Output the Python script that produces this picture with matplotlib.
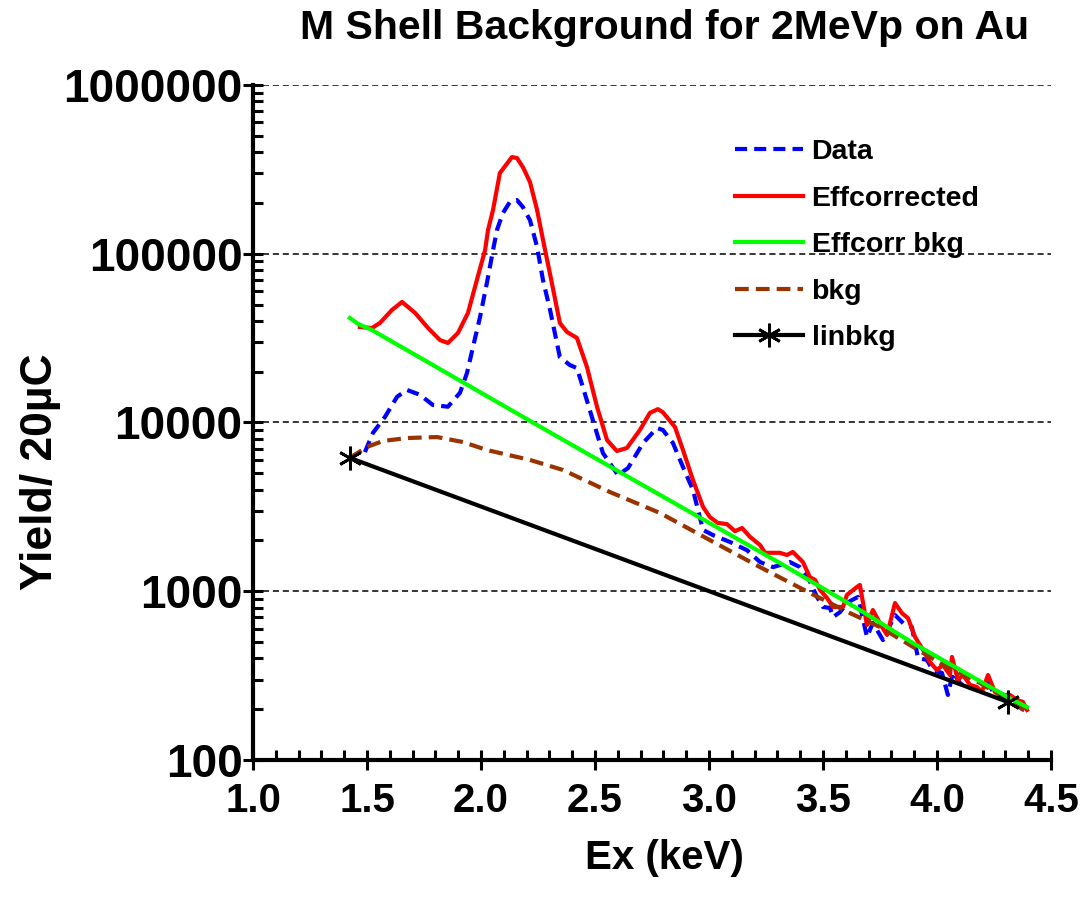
import numpy as np
import matplotlib
matplotlib.use("Agg")
import matplotlib.pyplot as plt
from matplotlib.ticker import FixedLocator, MultipleLocator, FuncFormatter, LogLocator, NullFormatter

plt.rcParams["font.family"] = ["Liberation Sans", "DejaVu Sans"]
plt.rcParams["font.weight"] = "bold"

# Ex (keV) / yield per 20 uC
data_x = [1.491, 1.526, 1.579, 1.632, 1.675, 1.732, 1.789, 1.855, 1.908, 1.939,
          1.965, 1.996, 2.026, 2.053, 2.070, 2.096, 2.127, 2.158, 2.184, 2.215,
          2.246, 2.272, 2.303, 2.346, 2.390, 2.421, 2.447, 2.491, 2.535, 2.601,
          2.645, 2.711, 2.772, 2.798, 2.842, 2.886, 2.930, 2.974, 3.018, 3.092,
          3.167, 3.224, 3.281, 3.355, 3.399, 3.434, 3.474, 3.500, 3.531, 3.544,
          3.575, 3.605, 3.627, 3.654, 3.693, 3.719, 3.763, 3.816, 3.860, 3.890,
          3.917, 3.956, 3.982, 4.022, 4.048, 4.070, 4.101, 4.132, 4.158, 4.189,
          4.224, 4.254, 4.289, 4.320, 4.351, 4.386]
data_y = [6680, 8670, 10800, 14200, 15600, 14600, 12700, 12400, 15000, 19700,
          28000, 42200, 67100, 105000, 138000, 174000, 203000, 208000, 189000, 158000,
          110000, 69800, 46500, 24400, 21900, 21000, 16200, 10300, 6590, 4880,
          5370, 7560, 9270, 9030, 7560, 5450, 3980, 2310, 2150, 1960,
          1750, 1490, 1390, 1490, 1390, 1210, 925, 807, 796, 703,
          753, 851, 887, 925, 536, 649, 514, 723, 631, 614,
          402, 392, 341, 328, 243, 332, 286, 267, 267, 260,
          286, 243, 236, 233, 221, 190]

eff_x = [1.469, 1.522, 1.557, 1.610, 1.654, 1.711, 1.768, 1.820, 1.855, 1.899,
         1.943, 1.982, 2.018, 2.031, 2.053, 2.083, 2.136, 2.158, 2.184, 2.215,
         2.246, 2.272, 2.311, 2.346, 2.377, 2.421, 2.465, 2.509, 2.553, 2.596,
         2.640, 2.697, 2.741, 2.776, 2.798, 2.851, 2.886, 2.930, 2.974, 3.004,
         3.039, 3.079, 3.114, 3.145, 3.180, 3.224, 3.246, 3.311, 3.342, 3.368,
         3.412, 3.443, 3.465, 3.487, 3.518, 3.544, 3.588, 3.605, 3.649, 3.662,
         3.693, 3.719, 3.759, 3.781, 3.816, 3.846, 3.873, 3.904, 3.939, 3.969,
         4.000, 4.026, 4.057, 4.066, 4.092, 4.114, 4.145, 4.175, 4.197, 4.224,
         4.254, 4.285, 4.320, 4.351, 4.377, 4.395]
eff_y = [36800, 36300, 38900, 46500, 51800, 44600, 36300, 30800, 29600, 33900,
         44600, 69800, 105000, 138000, 182000, 301000, 374000, 369000, 326000, 266000,
         182000, 121000, 67100, 38900, 34400, 31700, 21300, 12400, 7870, 6780,
         7060, 9020, 11400, 12000, 11500, 9400, 6870, 4560, 3160, 2750,
         2540, 2500, 2270, 2370, 2100, 1880, 1690, 1690, 1640, 1710,
         1490, 1210, 1170, 1020, 912, 807, 807, 951, 1060, 1090,
         631, 774, 614, 551, 851, 743, 693, 536, 449, 381,
         341, 366, 319, 408, 298, 319, 279, 271, 253, 319,
         253, 243, 243, 227, 221, 198]

effbkg_x = [1.425, 1.461, 1.522, 2.346, 3.311, 3.662, 3.895, 4.333, 4.395]
effbkg_y = [41600, 38400, 35300, 8090, 1470, 774, 493, 227, 206]

bkg_x = [1.425, 1.500, 1.570, 1.675, 1.807, 1.921, 2.026, 2.215, 2.360, 2.566,
         2.785, 3.004, 3.224, 3.443, 3.618, 3.750, 3.895, 4.044, 4.189, 4.333, 4.395]
bkg_y = [6170, 7160, 7770, 8090, 8200, 7660, 6870, 6000, 5230, 3870,
         2910, 2010, 1390, 977, 743, 614, 468, 356, 286, 218, 192]

linbkg_x = [1.425, 4.31]
linbkg_y = [6170, 221]

fig = plt.figure(figsize=(10.82, 9.05), dpi=100)
ax = fig.add_axes([0.2338, 0.1602, 0.9713 - 0.2338, 0.9061 - 0.1602])

ax.plot(data_x, data_y, color="#0000FF", lw=3, dashes=(2.9, 1.7), label="Data", zorder=3)
ax.plot(eff_x, eff_y, color="#FF0000", lw=3, label="Effcorrected", zorder=3)
ax.plot(effbkg_x, effbkg_y, color="#00FF00", lw=3, label="Effcorr bkg", zorder=4)
ax.plot(bkg_x, bkg_y, color="#993300", lw=3, dashes=(3.3, 1.7), label="bkg", zorder=3)
ax.plot(linbkg_x, linbkg_y, color="black", lw=3, marker=(6, 2, 0), ms=17, mew=2,
        label="linbkg", zorder=5)

ax.set_yscale("log")
ax.set_xlim(1.0, 4.5)
ax.set_ylim(100, 1000000)

ax.xaxis.set_major_locator(MultipleLocator(0.5))
ax.xaxis.set_minor_locator(MultipleLocator(0.1))
ax.xaxis.set_major_formatter(FuncFormatter(lambda v, p: f"{v:.1f}"))
ax.yaxis.set_major_locator(FixedLocator([100, 1000, 10000, 100000, 1000000]))
ax.yaxis.set_minor_locator(LogLocator(base=10, subs=np.arange(2, 10), numticks=20))
ax.yaxis.set_major_formatter(FuncFormatter(lambda v, p: f"{int(round(v))}"))
ax.yaxis.set_minor_formatter(NullFormatter())

for side in ["top", "right"]:
    ax.spines[side].set_visible(False)
for side in ["left", "bottom"]:
    ax.spines[side].set_linewidth(3)

ax.tick_params(axis="both", which="major", direction="inout", length=15, width=2.2)
ax.tick_params(axis="both", which="minor", direction="in", length=7, width=2.2)
ax.tick_params(axis="x", which="major", labelsize=29, pad=8)
ax.tick_params(axis="y", which="major", labelsize=33, pad=0)

ax.grid(True, axis="y", which="major", color="black", lw=1.1, linestyle=(0, (4, 2.5)))
ax.set_axisbelow(True)

ax.set_xlabel("Ex (keV)", fontsize=29, fontweight="bold")
ax.xaxis.set_label_coords(0.516, -0.117)
ax.set_ylabel("Yield/ 20µC", fontsize=32, fontweight="bold")
ax.yaxis.set_label_coords(-0.241, 0.427)
fig.suptitle("M Shell Background for 2MeVp on Au", fontsize=29.5, fontweight="bold",
             x=0.614, y=0.99)

ax.legend(loc="upper left", bbox_to_anchor=(0.679, 0.846), bbox_transform=fig.transFigure,
          frameon=False, fontsize=20.5, handlelength=2.4, handletextpad=0.3,
          labelspacing=0.72, borderaxespad=0, borderpad=0)

fig.savefig("out.png", dpi=100)
